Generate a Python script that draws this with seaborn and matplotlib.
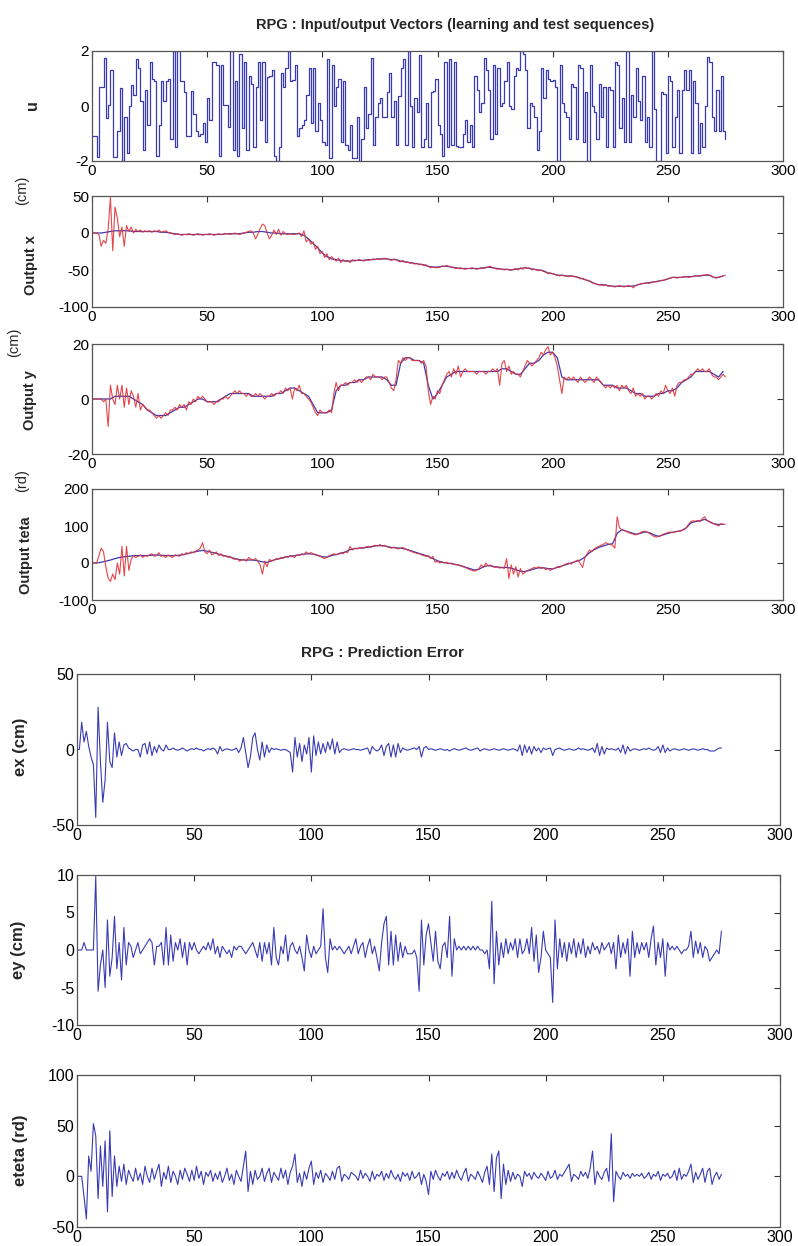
import numpy as np
import pandas as pd
import matplotlib
matplotlib.use('Agg')
import matplotlib.pyplot as plt
import seaborn as sns

# ---- input signal u (one level per sample, t = 0..275)
u = [
    -1.1, -1.1, -1.85, 0.7, 0.7, 1.75, -0.45, 0.05, 1.3, -1.85, -1.85, -0.9, 0.65, -2.0, -0.4, -1.7, 0.0, 0.75, 0.4, 1.7,
    1.4, 0.2, -1.6, 0.6, -0.7, 1.6, 1.0, 0.9, -1.8, -0.7, 0.9, 0.2, 0.9, 1.0, -1.2, 2.0, -1.5, 2.0, 0.9, 0.9,
    0.5, -1.1, -1.1, 0.55, -0.3, -0.9, -1.1, -1.0, -0.6, -1.3, 0.3, -0.5, 1.6, 1.6, 1.5, -1.8, 1.5, 0.05, 0.05, -0.75,
    2.0, -1.6, 0.9, -1.8, 1.9, -0.8, 1.6, -1.6, 1.1, 0.8, -1.5, 0.7, 1.6, -0.5, 1.6, -1.3, 1.05, 1.1, 1.3, -1.8,
    -2.0, -1.5, 1.2, 0.7, 1.4, 2.0, 0.9, 0.95, 1.5, -1.1, -0.8, -0.7, -0.5, 0.4, 1.4, -0.6, 1.4, -0.9, 0.1, -0.5,
    -1.3, -1.4, 1.7, -1.9, 1.5, 0.0, 0.7, 1.0, -1.3, 0.9, -1.4, -1.6, -0.7, -1.9, -1.9, -0.4, -2.0, -1.2, 0.7, -0.8,
    -0.3, 1.75, -1.4, -0.4, 0.1, 0.3, -0.4, -0.4, 0.5, 1.2, -0.4, 0.2, -1.4, 0.35, 1.4, 1.7, -1.4, 2.0, 0.0, -1.5,
    0.3, -0.2, 1.85, -1.5, -1.2, 0.1, -1.5, 0.5, 0.55, 1.0, -0.7, -1.0, -1.8, 1.6, -1.5, 1.7, -1.4, 1.6, -1.45, -1.5,
    -1.5, -1.0, -0.5, -1.3, -0.7, -1.5, 1.1, 0.6, -0.2, 0.1, 1.75, 1.3, 0.6, -1.2, 1.5, -1.0, 1.4, 0.0, 0.1, 0.9,
    1.6, 0.0, -0.1, 1.1, 1.4, 1.3, 2.0, 1.9, 1.3, -0.8, 0.1, 0.0, -0.4, -1.6, -0.9, 1.4, 0.3, 1.3, 1.0, 0.9,
    0.95, 0.7, -2.0, 1.5, 0.1, -0.2, -0.4, -1.2, 0.8, 0.7, -1.2, 1.5, 1.4, -1.3, 0.5, -2.0, 1.5, 0.0, -0.2, -1.2,
    0.8, -0.4, 0.7, -1.5, 0.7, 0.6, -1.5, 1.6, 1.5, -0.8, 0.3, -1.3, 2.0, -1.3, 0.4, -0.4, 1.4, 0.2, -0.5, 1.1,
    -1.3, -0.4, -1.5, 2.0, -0.1, -2.0, -2.0, 0.5, 0.45, -1.7, 1.1, 0.9, -1.5, -0.4, 0.6, -1.7, 0.6, 1.3, 0.6, 1.3,
    -1.7, 0.9, 0.1, -1.7, -0.6, -1.5, 0.0, 1.8, 1.6, -0.4, -0.9, 0.6, -0.9, 1.1, -0.9, -1.2,
]

# ---- measured outputs (red, every sample)
x_meas = [
    0, 0, 0, -2, -18, -10, -14, 5, 48, -24, 35, 20, -5, 8, -18, 10, 2, 8, 0, 5,
    2, 4, 1, 3, 2, 3, 1, 3, 2, 4, 1, 2, 3, 1, 0, -1, -2, -1, -2, -3,
    -2, -2, -1, -2, -3, -2, -1, -2, -3, -2, -2, -1, -2, -3, -2, -1, -2, -2, -1, -1,
    -2, -1, 0, -1, -2, -1, 0, 1, 2, 3, 0, -8, -2, 6, 12, 10, 0, -8, -3, 4,
    -2, 5, -3, 2, -1, -2, -1, -2, -2, -1, 0, -5, 3, -12, -8, -15, -12, -22, -18, -28,
    -25, -33, -28, -36, -32, -35, -38, -34, -40, -36, -38, -37, -40, -36, -38, -37, -36, -37, -38, -36,
    -37, -36, -35, -36, -35, -36, -35, -34, -35, -36, -37, -35, -36, -38, -39, -37, -40, -39, -41, -40,
    -42, -41, -43, -42, -44, -43, -45, -47, -46, -47, -47, -46, -45, -45, -44, -45, -46, -47, -48, -48,
    -47, -48, -49, -48, -48, -47, -48, -49, -48, -47, -48, -47, -46, -45, -47, -48, -49, -48, -49, -50,
    -49, -50, -50, -49, -48, -50, -47, -49, -46, -48, -47, -50, -49, -50, -51, -50, -52, -53, -55, -54,
    -55, -56, -57, -58, -57, -58, -58, -59, -58, -59, -59, -60, -62, -61, -63, -64, -65, -67, -68, -69,
    -70, -70, -71, -70, -72, -71, -72, -73, -72, -71, -72, -73, -72, -71, -72, -74, -71, -70, -69, -68,
    -68, -67, -68, -67, -66, -66, -65, -64, -64, -63, -62, -61, -60, -60, -61, -60, -60, -59, -59, -60,
    -59, -59, -58, -58, -58, -57, -57, -56, -57, -58, -60, -61, -60, -59, -58, -57,
]
y_meas = [
    0, 0, 0, 0, 0, -1, 0, -10, 5, 0, -2, 5, 0, 5, -3, 4, -2, 3, 1, -3,
    2, -4, -2, -3, -4, -4, -5, -6, -7, -6, -7, -6, -5, -6, -4, -4, -3, -4, -2, -3,
    -2, -4, -1, -2, 0, -1, 1, 0, 1, 0, -1, -1, -1, -2, -1, -1, 0, 0, 1, 0,
    1, 2, 3, 2, 3, 2, 2, 1, 2, 1, 1, 2, 1, 2, 1, 0, 1, 1, 2, 1,
    2, 2, 3, 2, 4, 3, 4, 0, 4, 3, 5, 2, 2, 1, 0, -1, -3, -5, -6, -4,
    -5, -5, -5, -4, -5, 2, 6, 3, 5, 5, 6, 5, 6, 6, 7, 6, 7, 6, 7, 8,
    8, 7, 9, 8, 8, 8, 7, 8, 8, 6, 4, 3, 7, 14, 13, 15, 14, 15, 15, 14,
    14, 14, 14, 13, 14, 12, 3, -2, 1, 0, 3, 2, 5, 7, 9, 10, 8, 11, 9, 12,
    8, 10, 11, 10, 10, 10, 10, 9, 10, 10, 10, 9, 10, 10, 11, 10, 11, 5, 13, 14,
    10, 12, 9, 10, 9, 9, 8, 10, 12, 14, 13, 12, 13, 14, 15, 17, 16, 18, 19, 16,
    17, 15, 12, 7, 2, 8, 7, 8, 7, 8, 7, 6, 8, 7, 6, 7, 8, 7, 6, 8,
    7, 6, 5, 4, 5, 4, 5, 4, 5, 3, 5, 4, 5, 3, 2, 4, 1, 2, 1, 2,
    0, 1, 1, 0, 1, 2, 1, 3, 2, 5, 3, 2, 4, 1, 5, 6, 6, 7, 7, 8,
    9, 9, 10, 11, 10, 11, 10, 10, 11, 9, 8, 8, 7, 8, 9, 8,
]
teta_meas = [
    0, 0, 0, 20, 40, 30, -10, -40, -50, -30, -45, 0, -30, 45, -35, 45, -20, 10, 20, 15,
    18, 22, 15, 20, 18, 22, 25, 18, 20, 28, 18, 20, 15, 22, 18, 15, 22, 20, 18, 25,
    22, 28, 25, 30, 28, 32, 35, 40, 55, 30, 25, 35, 22, 25, 30, 20, 25, 18, 20, 15,
    18, 12, 10, 12, 5, 8, 10, 5, 15, 10, 8, 12, 5, -5, -30, 5, -10, 10, 5, 8,
    12, 10, 15, 12, 18, 15, 20, 18, 15, 22, 20, 25, 22, 30, 25, 28, 25, 22, 20, 18,
    15, 12, 15, 20, 22, 25, 22, 25, 28, 25, 30, 28, 45, 35, 40, 38, 40, 42, 40, 44,
    45, 42, 46, 48, 46, 50, 45, 48, 44, 42, 40, 43, 40, 38, 40, 42, 38, 35, 33, 30,
    28, 26, 25, 22, 20, 18, 20, 12, 18, 2, 5, 0, 3, 0, 2, -2, 0, -3, -5, -4,
    -8, -10, -12, -15, -18, -20, -22, -20, -15, -5, -12, 0, -8, -5, -10, -12, -10, -14, -12, -15,
    12, -42, -5, -30, -10, -38, -15, -30, -25, -20, -18, -15, -12, -14, -10, -15, -12, -18, -15, -20,
    -16, -14, -10, -12, -8, -5, -2, 0, -3, 2, 5, 8, -2, -12, 15, 25, 35, 30, 38, 42,
    45, 48, 50, 55, 52, 50, 48, 40, 125, 95, 90, 88, 85, 82, 80, 78, 76, 78, 82, 85,
    86, 84, 80, 76, 72, 70, 72, 74, 78, 80, 82, 84, 82, 84, 86, 85, 88, 90, 95, 105,
    112, 114, 113, 115, 112, 120, 125, 115, 112, 108, 106, 104, 100, 106, 104, 105,
]

# ---- model outputs (blue, every 2nd sample)
x_model = [
    0, 0, 0, 1, 2, 3, 3, 3, 3, 2,
    2, 2, 2, 2, 2, 1, 1, 0, -1, -2,
    -2, -2, -2, -2, -2, -2, -2, -2, -2, -1,
    -1, -1, -1, 0, 1, 1, 2, 2, 1, 0,
    0, -1, -1, -1, -1, -1, -3, -8, -14, -20,
    -27, -32, -35, -36, -37, -38, -38, -37, -37, -37,
    -36, -36, -35, -35, -35, -36, -36, -38, -39, -40,
    -41, -42, -43, -45, -46, -46, -45, -45, -46, -47,
    -48, -48, -48, -48, -48, -47, -46, -47, -48, -49,
    -49, -50, -49, -48, -47, -48, -49, -50, -51, -54,
    -55, -57, -57, -58, -58, -59, -61, -63, -65, -68,
    -70, -70, -71, -72, -72, -72, -72, -72, -71, -69,
    -68, -67, -66, -65, -64, -62, -60, -60, -60, -59,
    -59, -58, -58, -57, -57, -60, -60, -58,
]
y_model = [
    0, 0, 0, 0, 0, 1, 1, 1, 1, 0,
    -1, -2, -4, -5, -6, -6, -6, -5, -4, -3,
    -3, -2, -1, 0, 0, -1, -1, -1, 0, 1,
    2, 2, 2, 2, 2, 1, 1, 1, 1, 1,
    2, 2, 3, 4, 4, 3, 2, 1, -2, -5,
    -5, -5, -4, 3, 5, 5, 6, 6, 7, 7,
    8, 8, 8, 8, 7, 5, 5, 13, 15, 15,
    14, 14, 13, 5, 0, 2, 5, 8, 9, 10,
    10, 10, 10, 10, 10, 10, 10, 10, 10, 11,
    11, 10, 9, 9, 11, 13, 13, 14, 16, 17,
    17, 15, 8, 7, 7, 7, 7, 7, 7, 7,
    7, 5, 5, 5, 4, 4, 4, 3, 2, 2,
    1, 1, 1, 2, 2, 3, 3, 4, 6, 7,
    8, 10, 10, 10, 10, 9, 8, 10,
]
teta_model = [
    0, 0, 2, 5, 8, 12, 15, 17, 18, 20,
    20, 20, 20, 21, 22, 21, 20, 20, 20, 21,
    23, 26, 29, 32, 34, 32, 29, 26, 22, 19,
    16, 12, 9, 8, 8, 8, 6, 3, 2, 6,
    10, 13, 16, 18, 20, 22, 24, 25, 24, 21,
    17, 16, 20, 23, 26, 30, 36, 39, 40, 41,
    43, 45, 47, 47, 45, 42, 41, 40, 38, 34,
    30, 26, 22, 18, 12, 6, 2, 0, -2, -4,
    -7, -11, -15, -19, -17, -10, -7, -9, -11, -12,
    -12, -14, -18, -22, -23, -20, -16, -13, -13, -15,
    -16, -12, -8, -4, 0, 4, 8, 16, 28, 36,
    42, 46, 50, 52, 80, 90, 86, 82, 78, 80,
    84, 82, 76, 72, 76, 80, 83, 85, 88, 95,
    108, 112, 114, 118, 112, 106, 104, 105,
]

# ---- prediction errors (every sample)
ex = [
    0, 0, 18, 5, 12, 2, -5, -10, -45, 28, -8, -35, -20, 18, -8, -12, 11, -5, 5, -4,
    3, 4, 1, 0, -1, 0, 0, -5, 3, 4, -3, 5, -4, 2, -2, 3, 0, -1, 3, 0,
    0, 1, 0, -0.5, 0, 1, 0, -1, 0, 0.5, 0, 1, 0, 0, -1, 0, 0.5, 0, 1, 0,
    -3, 2, -1, 0, 0.5, 0, -0.5, 0, 1, -2, 1, 8, -2, -12, -5, 8, 11, 0, -7, 5,
    -5, 3, -2, 1, 0, 0.5, 0, -0.5, 0, 0, -1, -2, -15, 8, -5, 4, -8, 3, -3, 8,
    -15, 9, -4, 5, -3, 4, -2, 5, 0, 7, -3, 5, -2, 0, 0.5, 0, -0.5, 0, 0.5, 0,
    0, -0.5, 0, 0.5, 1, -3, 2, 0, -1, 0, 3, -4, 2, 4, -5, 3, -5, 4, -2, 1,
    0, -0.5, 0, 0.5, 1, 0, 2, -5, 1, 2, 0, 0.5, 0, -0.5, 0, 0.5, 0, -0.5, 0, -1,
    0, 0.5, 0, -0.5, 0, 0.5, 1, 0, -0.5, 0, 0.5, 1, -1, 0, 0.5, 0, -0.5, 0, 0.5, 0,
    -0.5, 0, 0.5, 0, -0.5, 0, 0.5, 0, -1, 3, -4, 3, -2, 2, -3, 2, -1, 1, -2, 1,
    0, 0.5, 1, -4, 0, 0.5, 1, 0, -0.5, 0, 0.5, 0, -0.5, 0, 1, 0, 0.5, 0, -0.5, 0,
    1, -2, 4, -4, 2, -3, 1, 0, 0.5, 0, -0.5, 1, -2, 3, -3, 2, -1, 0, 0.5, 0,
    -0.5, 0, 0.5, 0, 1, 0, -0.5, 0, 2, -2, 3, -2, 1, -1, 0, 0.5, 0, -0.5, 0, 0.5,
    0, -0.5, 0, 0.5, 0, -0.5, 0, 0.5, 0, 0, -1, -1, -1, 0, 1, 1,
]
ey = [
    0, 0, 0, 1, 0, 0, 0, 0, 9.8, -5.5, -2, 0, -5, 4, -3.5, -1, 4.5, -2.5, 1, -4,
    3, -2, 1, 0.5, -1, 0, 1, -0.5, 0, 0.5, 1, 1.5, 1, -2, 0.5, 0.5, 1, -2, 3, -2,
    2, -1.5, 1, 0, 1.5, -1, 1, -2, 1, 0, 1, 0, -0.5, 0, 0.5, 0, 1, 0, 1.5, -0.5,
    0.5, -1, 0.5, 0, -0.5, 0, -1, 0.5, 0, 0.5, 0.5, 0, -0.5, 0, 0.5, 1, 0, -1, 1, -1.5,
    1, -0.5, 1, -2, 3, -1, -2, 0.5, -0.5, 2, -1.5, 0.5, 1, 0, -0.5, 0.5, -1, -2.8, 2, 0,
    -1, 0.5, -0.5, 0, 0.5, 5.5, -1, -3, 1.5, 0, 0.5, 0, 0.5, 0, -0.5, 0, 0.5, -0.5, 0.5, 1.5,
    -0.5, 0.5, 1, -1, 0.5, 1.5, -0.5, 0.5, -1, -2.8, 1, 3.5, 4.5, -2, 2.5, -2, 2, -1.5, 1, -1,
    0.5, -0.5, -0.5, -0.5, 0, -1, -5.5, 4, -2, 2, 3.5, 1, -1.5, 2.5, -1.5, -2.5, 0.5, 1, -1, 4.5,
    -3.5, 1.5, 0, 0.5, 0, 0.5, 0, 0.5, 0, 0.5, 0, 0.5, 0, 0, -0.5, 0, -2.5, 6.5, -4.5, 2.5,
    -2, 1, -1, 1.5, -0.5, 1, 0, 1.5, -1, 1.5, -0.5, 0, 1.5, -0.5, 3, -1.5, 2, -3, -1, 2.5,
    0, -0.5, -1, -7, 4, -2.5, 1.5, -1, 1, -1.5, 1, -0.5, 1.5, -1, 1, -0.5, 1.5, -1, 0.5, -0.5,
    1, 0, 0.5, -0.5, 1, 0, 0.5, 1, -0.5, 1, -2.5, 2, -1, 1, -0.5, 1.5, -3.5, 2.5, -1, 1,
    -0.5, 1, 0, 1, -1, 1.5, 3.2, -2, 1, -1, 1.5, -3.5, 1, 0, 0.5, 0, 0.5, 0, -0.5, 0,
    0, 0.5, 2.5, -1, 1.2, -0.5, 1, -1, 0.5, 0, -1.5, -1, -0.5, 0, -0.5, 2.5,
]
eteta = [
    0, 0, 0, -20, -42, 20, 5, 52, 40, -22, 30, -10, 35, -35, 45, -20, 20, -10, 10, -5,
    12, -8, 6, 0, -5, 8, -4, 3, -8, 10, 0, -6, 8, -3, 5, 12, -10, 4, -3, 10,
    -6, 5, 0, -8, 6, -3, 8, 2, -5, 6, -4, 10, -2, 5, -8, 4, 0, 6, -5, 3,
    -3, 5, -6, 0, 8, -4, 2, -8, 6, 0, -5, 10, 25, -15, 5, -8, 6, -3, 0, 8,
    -5, 3, 8, -6, 4, 0, -4, 8, -2, 6, -8, 4, 10, 22, -6, 3, -10, 5, -3, 8,
    15, -8, 4, -2, 6, -6, 3, 0, -4, 5, -3, 8, 10, -5, 2, 0, -3, 4, 2, 0,
    -4, 6, -2, 3, 0, -5, 5, -3, 2, 0, 5, -4, 3, -2, 6, 0, -3, 2, -5, 4,
    0, 3, -4, 5, -2, 0, 4, -8, 2, -5, -18, 5, -3, 6, 0, -4, 3, 0, 5, -3,
    4, -2, 6, 0, -4, 3, 8, -5, 2, 0, -3, 5, 0, -6, 4, 10, -8, 22, -15, 18,
    25, -22, 12, -8, 6, -5, 4, -3, 2, 0, -10, 5, 0, 3, -3, 4, 0, -2, 3, 0,
    -4, 5, -2, 0, 6, -3, 2, 0, 4, 8, 12, -5, 2, 0, -3, 5, 0, 4, -2, 8,
    25, -8, 5, 0, -3, 4, 8, -5, 42, -25, 5, 0, -3, 4, 0, 2, -2, 3, 0, 2,
    0, 3, -2, 0, 4, -3, 2, 0, 5, -4, 2, 0, 3, -2, 0, 6, -4, 8, -3, 2,
    0, 5, 12, -6, 4, -3, 2, 8, -6, 5, 8, -8, 0, 4, -3, 2,
]

BLUE = '#3a3ab4'
RED = '#e03238'

sns.set_theme(style='white')
plt.rcParams['font.family'] = ['Liberation Sans', 'DejaVu Sans']
plt.rcParams['axes.unicode_minus'] = False

fig = plt.figure(figsize=(7.98, 12.46), dpi=100)
W, H = 798.0, 1246.0


def add_axes(left, top, right, bottom):
    return fig.add_axes([left / W, 1 - bottom / H, (right - left) / W, (bottom - top) / H])


def style(ax, ylim, yticks, size=11):
    ax.set_xlim(0, 300)
    ax.set_ylim(*ylim)
    ax.set_xticks(range(0, 301, 50))
    ax.set_yticks(yticks)
    ax.tick_params(direction='in', top=True, right=True, length=4, width=0.8,
                   color='#333333', labelsize=size, labelcolor='black', pad=2)
    for s in ax.spines.values():
        s.set_color('#555555')
        s.set_linewidth(0.9)
    ax.set_xlabel('')
    ax.set_ylabel('')


def vlabel(x, y, text, bold=True, size=10.5):
    fig.text(x / W, 1 - y / H, text, rotation=90, ha='center', va='center',
             fontsize=size, fontweight='bold' if bold else 'normal')


t1 = np.arange(len(u))
t_model = np.arange(0, 2 * len(x_model), 2)

# --- input / output vectors
ax = add_axes(92, 51, 783, 161)
sns.lineplot(x=t1, y=u, ax=ax, color=BLUE, linewidth=0.9, drawstyle='steps-post',
             estimator=None, sort=False)
style(ax, (-2, 2), [-2, 0, 2])
vlabel(33, 105, 'u', size=11.5)

panels = [
    ((196, 307), x_meas, x_model, (-100, 50), [-100, -50, 0, 50], 'Output x', (31, 265), '(cm)', (22, 190)),
    ((344, 454), y_meas, y_model, (-20, 20), [-20, 0, 20], 'Output y', (30, 400), '(cm)', (14, 342)),
    ((489, 600), teta_meas, teta_model, (-100, 200), [-100, 0, 100, 200], 'Output teta', (26, 555), '(rd)', (22, 481)),
]
for (top, bot), meas, model, ylim, yt, lab, lpos, unit, upos in panels:
    ax = add_axes(92, top, 783, bot)
    sns.lineplot(x=t_model, y=model, ax=ax, color=BLUE, linewidth=0.9, estimator=None, sort=False)
    sns.lineplot(x=np.arange(len(meas)), y=meas, ax=ax, color=RED, linewidth=0.8,
                 alpha=0.9, estimator=None, sort=False)
    style(ax, ylim, yt)
    vlabel(lpos[0], lpos[1], lab)
    vlabel(upos[0], upos[1], unit, bold=False)

fig.text(455 / W, 1 - 25 / H, 'RPG : Input/output Vectors (learning and test sequences)',
         ha='center', va='center', fontsize=10.5, fontweight='bold')

# --- prediction errors
errs = [
    ((674, 825), ex, (-50, 50), [-50, 0, 50], 'ex (cm)', (21, 747)),
    ((875, 1025), ey, (-10, 10), [-10, -5, 0, 5, 10], 'ey (cm)', (19, 950)),
    ((1075, 1227), eteta, (-50, 100), [-50, 0, 50, 100], 'eteta (rd)', (20, 1150)),
]
for (top, bot), err, ylim, yt, lab, lpos in errs:
    ax = add_axes(77, top, 780, bot)
    sns.lineplot(x=np.arange(len(err)), y=err, ax=ax, color=BLUE, linewidth=0.8,
                 estimator=None, sort=False)
    style(ax, ylim, yt, size=11.5)
    vlabel(lpos[0], lpos[1], lab, size=12)

fig.text(382 / W, 1 - 653 / H, 'RPG : Prediction Error', ha='center', va='center',
         fontsize=11, fontweight='bold')

fig.savefig('out.png', dpi=100)
